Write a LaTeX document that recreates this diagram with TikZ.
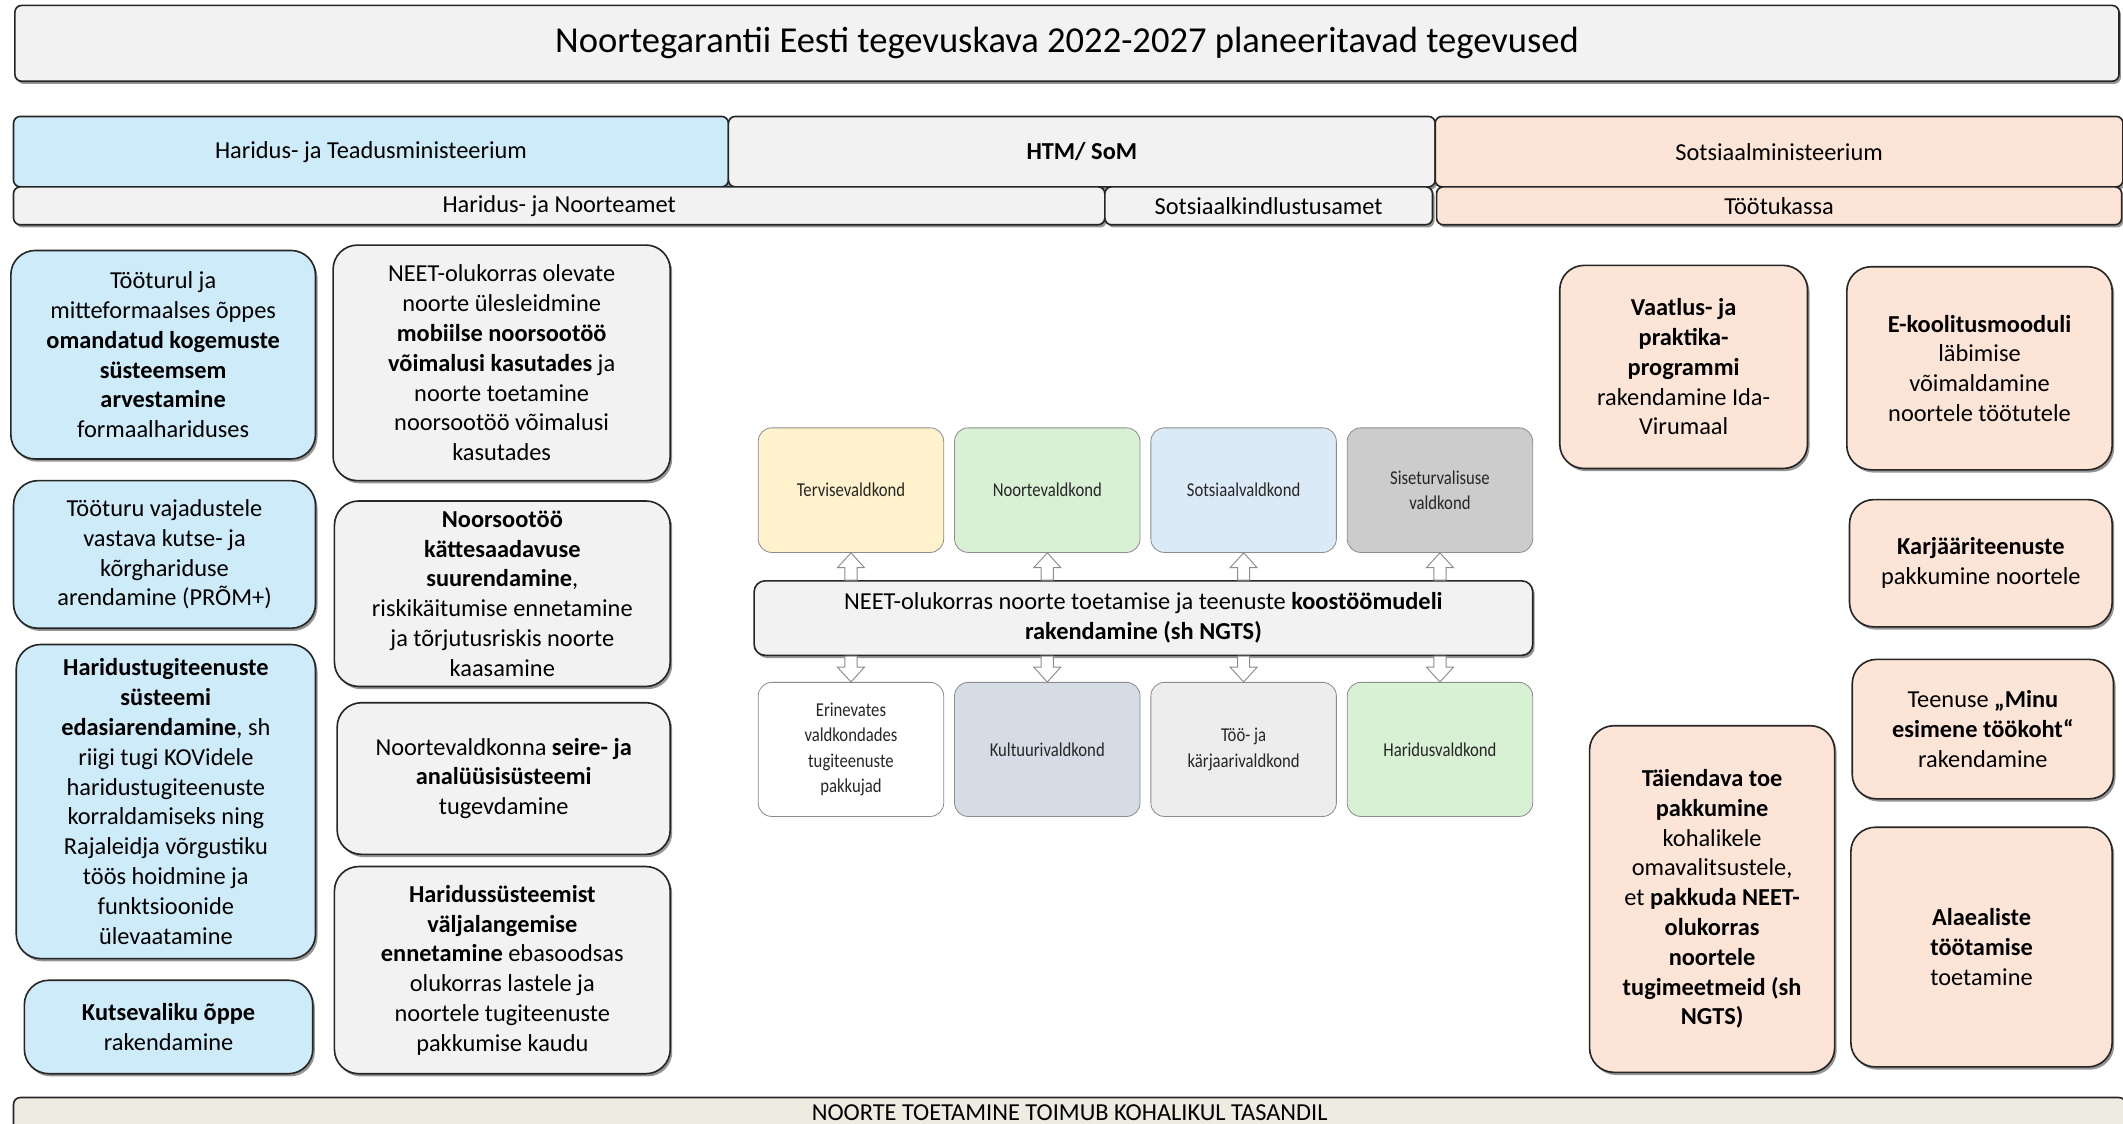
\documentclass[tikz,border=0pt]{standalone}
\usepackage{fontspec}
\setmainfont{Carlito}
\newfontfamily\narrowfont[FakeStretch=0.85]{Carlito}
\usetikzlibrary{calc,positioning,shadows}

\definecolor{htmblue}{RGB}{205,235,248}
\definecolor{boxgray}{RGB}{242,242,242}
\definecolor{peach}{RGB}{252,229,214}
\definecolor{barbeige}{RGB}{238,236,225}
\definecolor{fyellow}{RGB}{255,242,204}
\definecolor{fgreen}{RGB}{216,240,211}
\definecolor{fblue}{RGB}{219,234,247}
\definecolor{fgray}{RGB}{204,204,204}
\definecolor{fslate}{RGB}{214,220,229}
\definecolor{flight}{RGB}{237,237,237}

\newcommand{\fsz}[2]{\fontsize{#1}{#2}\selectfont}
% hollow block arrow from #1 (tail) to #2 (tip)
\newcommand{\hollowarrow}[2]{%
  \path ($(#2)!11pt!(#1)$) coordinate (hb);
  \draw[hollow] (#2) -- ($(hb)!10pt!90:(#2)$) -- ($(hb)!4.5pt!90:(#2)$)
    -- ($(#1)!4.5pt!90:(hb)$) -- ($(#1)!4.5pt!-90:(hb)$)
    -- ($(hb)!4.5pt!-90:(#2)$) -- ($(hb)!10pt!-90:(#2)$) -- cycle;}

\tikzset{
  shade/.style={drop shadow={shadow xshift=1.5pt, shadow yshift=-2pt, opacity=.55, fill=black!75}},
  box/.style={rectangle, rounded corners=18pt, draw=black!85, line width=1.2pt, align=center, shade, font=\fsz{18}{22}},
  blubox/.style={box, fill=htmblue},
  grybox/.style={box, fill=boxgray},
  pchbox/.style={box, fill=peach},
  head/.style={rectangle, rounded corners=5pt, draw=black!85, line width=1.2pt, shade, font=\fsz{18}{22}},
  field/.style={rectangle, rounded corners=10pt, draw=black!45, line width=.6pt, minimum width=137pt, align=center, text=black!85, font=\narrowfont\fsz{14.5}{18.5}},
  hollow/.style={draw=black!45, fill=white, line width=.7pt},
}

\begin{document}
\begin{tikzpicture}[x=1pt, y=-1pt]
  \useasboundingbox[fill=white] (0,0) rectangle (1568,830);

  % title and ministries
  \node[head, fill=boxgray, minimum width=1554pt, minimum height=56pt, font=\fsz{27}{30}] (title) at (788,32) {Noortegarantii Eesti tegevuskava 2022-2027 planeeritavad tegevused};
  \node[head, fill=htmblue, minimum width=528pt, minimum height=52pt] (htm) at (274,112) {Haridus- ja Teadusministeerium};
  \node[head, fill=boxgray, minimum width=522pt, minimum height=52pt] (htmsom) at (799,112) {\textbf{HTM/ SoM}};
  \node[head, fill=peach, minimum width=508pt, minimum height=52pt] (som) at (1314,112) {Sotsiaalministeerium};
  \node[head, fill=boxgray, minimum width=806pt, minimum height=28pt] (harno) at (413,152) {Haridus- ja Noorteamet};
  \node[head, fill=boxgray, minimum width=242pt, minimum height=28pt] (ska) at (937,152) {Sotsiaalkindlustusamet};
  \node[head, fill=peach, minimum width=506pt, minimum height=28pt] (tk) at (1314,152) {Töötukassa};

  % Haridus- ja Teadusministeerium
  \node[blubox, minimum width=225pt, minimum height=154pt] (kogemus) at (120.5,262) {Tööturul ja\\ mitteformaalses õppes\\ \textbf{omandatud kogemuste}\\ \textbf{süsteemsem}\\ \textbf{arvestamine}\\ formaalhariduses};
  \node[blubox, minimum width=223pt, minimum height=109pt] (prom) at (121.5,409.5) {Tööturu vajadustele\\ vastava kutse- ja\\ kõrghariduse\\ arendamine (PRÕM+)};
  \node[blubox, minimum width=221pt, minimum height=232pt] (tugi) at (122.5,592) {\textbf{Haridustugiteenuste}\\ \textbf{süsteemi}\\ \textbf{edasiarendamine}, sh\\ riigi tugi KOVidele\\ haridustugiteenuste\\ korraldamiseks ning\\ Rajaleidja võrgustiku\\ töös hoidmine ja\\ funktsioonide\\ ülevaatamine};
  \node[blubox, minimum width=213pt, minimum height=69pt] (kutse) at (124.5,758.5) {\textbf{Kutsevaliku õppe}\\ rakendamine};

  % Haridus- ja Noorteamet
  \node[grybox, minimum width=249pt, minimum height=174pt] (mobiil) at (370.5,268) {NEET-olukorras olevate\\ noorte ülesleidmine\\ \textbf{mobiilse noorsootöö}\\ \textbf{võimalusi kasutades} ja\\ noorte toetamine\\ noorsootöö võimalusi\\ kasutades};
  \node[grybox, minimum width=248pt, minimum height=137pt] (kattesaad) at (371,438.5) {\textbf{Noorsootöö}\\ \textbf{kättesaadavuse}\\ \textbf{suurendamine},\\ riskikäitumise ennetamine\\ ja tõrjutusriskis noorte\\ kaasamine};
  \node[grybox, minimum width=246pt, minimum height=112pt] (seire) at (372,575) {Noortevaldkonna \textbf{seire- ja}\\ \textbf{analüüsisüsteemi}\\ tugevdamine};
  \node[grybox, minimum width=248pt, minimum height=153pt] (valja) at (371,716.5) {\textbf{Haridussüsteemist}\\ \textbf{väljalangemise}\\ \textbf{ennetamine} ebasoodsas\\ olukorras lastele ja\\ noortele tugiteenuste\\ pakkumise kaudu};

  % koostöömudel
  \node[box, rounded corners=8pt, fill=boxgray, minimum width=575pt, minimum height=55pt] (mid) at (844.5,456.5) {NEET-olukorras noorte toetamise ja teenuste \textbf{koostöömudeli}\\ \textbf{rakendamine (sh NGTS)}};
  \node[field, fill=fyellow, minimum height=92pt] (t1) at (628.5,362) {Tervisevaldkond};
  \node[field, fill=fgreen, minimum height=92pt] (t2) at (773.5,362) {Noortevaldkond};
  \node[field, fill=fblue, minimum height=92pt] (t3) at (918.5,362) {Sotsiaalvaldkond};
  \node[field, fill=fgray, minimum height=92pt] (t4) at (1063.5,362) {Siseturvalisuse\\ valdkond};
  \node[field, fill=white, minimum height=99pt] (b1) at (628.5,553.5) {Erinevates\\ valdkondades\\ tugiteenuste\\ pakkujad};
  \node[field, fill=fslate, minimum height=99pt] (b2) at (773.5,553.5) {Kultuurivaldkond};
  \node[field, fill=flight, minimum height=99pt] (b3) at (918.5,553.5) {Töö- ja\\ kärjaarivaldkond};
  \node[field, fill=fgreen, minimum height=99pt] (b4) at (1063.5,553.5) {Haridusvaldkond};
  \foreach \i in {1,...,4}{
    \coordinate (up\i) at (mid.north -| t\i.south);
    \hollowarrow{up\i}{t\i.south}
    \coordinate (dn\i) at (mid.south -| b\i.north);
    \hollowarrow{dn\i}{b\i.north}
  }

  % Sotsiaalministeerium / Töötukassa
  \node[pchbox, minimum width=183pt, minimum height=150pt] (vaatlus) at (1243.5,271) {\textbf{Vaatlus- ja}\\ \textbf{praktika-}\\ \textbf{programmi}\\ rakendamine Ida-\\ Virumaal};
  \node[pchbox, minimum width=196pt, minimum height=150pt] (ekool) at (1462,272) {\textbf{E-koolitusmooduli}\\ läbimise\\ võimaldamine\\ noortele töötutele};
  \node[pchbox, minimum width=194pt, minimum height=94pt] (karjaar) at (1463,416) {\textbf{Karjääriteenuste}\\ pakkumine noortele};
  \node[pchbox, minimum width=193pt, minimum height=103pt] (minu) at (1464.5,538.5) {Teenuse \textbf{„Minu}\\ \textbf{esimene töökoht“}\\ rakendamine};
  \node[pchbox, minimum width=193pt, minimum height=177pt] (alaeal) at (1463.5,699.5) {\textbf{Alaealiste}\\ \textbf{töötamise}\\ toetamine};
  \node[pchbox, minimum width=181pt, minimum height=256pt] (taiend) at (1264.5,664) {\textbf{Täiendava toe}\\ \textbf{pakkumine}\\ kohalikele\\ omavalitsustele,\\ et \textbf{pakkuda NEET-}\\ \textbf{olukorras}\\ \textbf{noortele}\\ \textbf{tugimeetmeid (sh}\\ \textbf{NGTS)}};

  % kohalik tasand
  \node[head, fill=barbeige, anchor=north, minimum width=1560pt, inner ysep=4pt, text height=13pt, text depth=22pt] (kohalik) at (790,810) {NOORTE TOETAMINE TOIMUB KOHALIKUL TASANDIL};
\end{tikzpicture}
\end{document}
